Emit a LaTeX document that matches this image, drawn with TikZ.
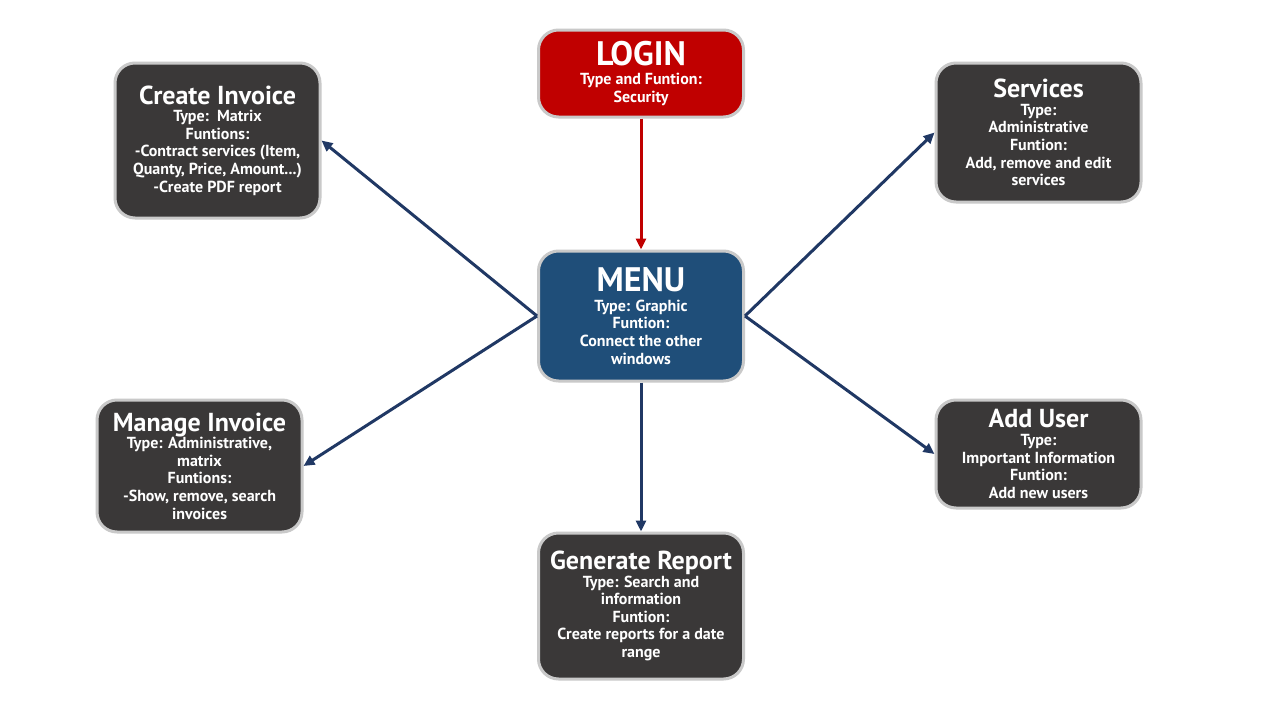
\documentclass[tikz,border=0pt]{standalone}
\usepackage{fontspec}
\setmainfont{PT Sans}
\usepackage{tikz}
\usetikzlibrary{arrows.meta,positioning}

\definecolor{loginred}{HTML}{C00000}
\definecolor{menublue}{HTML}{1F4E79}
\definecolor{boxgray}{HTML}{3A3838}
\definecolor{linkblue}{HTML}{203864}
\definecolor{rimgray}{HTML}{C9C9C9}

\newcommand{\bigtitle}[1]{{\fontsize{34}{36}\selectfont #1}\\[2pt]}
\newcommand{\boxtitle}[1]{{\fontsize{26}{28}\selectfont #1}\\[0pt]}

\begin{document}
\begin{tikzpicture}
[x=1pt,y=-1pt,
screen/.style={rectangle,rounded corners=20pt,draw=rimgray,line width=3pt,
fill=boxgray,text=white,font=\bfseries\fontsize{16}{17.6}\selectfont,
align=center,minimum width=205pt,inner sep=2pt},
redscreen/.style={screen,fill=loginred},
bluescreen/.style={screen,fill=menublue},
link/.style={draw=linkblue,line width=3pt,-{Triangle[length=11pt,width=10pt]}}]
\fill[white] (0,0) rectangle (1280,720);
\useasboundingbox (0,0) rectangle (1280,720);
\node at (641,73.5) [redscreen,minimum height=87pt] (login)
{\bigtitle{LOGIN}Type and Funtion:\\Security};
\node at (641,316) [bluescreen,minimum height=130pt] (menu)
{\bigtitle{MENU}Type: Graphic\\Funtion:\\Connect the other\\windows};
\node at (217.5,140.5) [screen,minimum height=155pt] (create)
{\boxtitle{Create Invoice}Type:\ \ Matrix\\Funtions:\\-Contract services (Item,\\Quanty, Price, Amount...)\\-Create PDF report};
\node at (199.5,466) [screen,minimum height=132pt] (manage)
{\boxtitle{Manage Invoice}Type: Administrative,\\matrix\\Funtions:\\-Show, remove, search\\invoices};
\node at (1038.5,132.5) [screen,minimum height=139pt] (services)
{\boxtitle{Services}Type:\\Administrative\\Funtion:\\Add, remove and edit\\services};
\node at (1038.5,454) [screen,minimum height=108pt] (adduser)
{\boxtitle{Add User}Type:\\Important Information\\Funtion:\\Add new users};
\node at (641,606) [screen,minimum height=146pt] (report)
{\boxtitle{Generate Report}Type: Search and\\information\\Funtion:\\Create reports for a date\\range};
\draw [link,draw=loginred] (login.south) -- (menu.north);
\draw [link] (menu.west) -- (create.east);
\draw [link] (menu.west) -- (manage.east);
\draw [link] (menu.east) -- (services.west);
\draw [link] (menu.east) -- (adduser.west);
\draw [link] (menu.south) -- (report.north);
\end{tikzpicture}
\end{document}
